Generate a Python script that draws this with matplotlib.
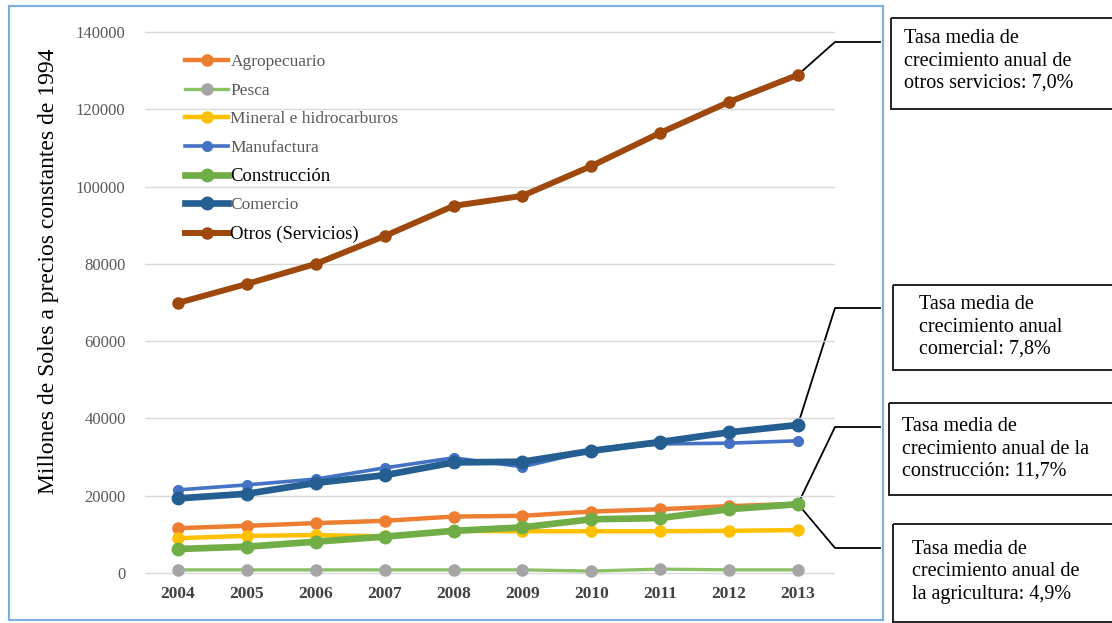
import numpy as np
import matplotlib.pyplot as plt
from matplotlib.patches import Rectangle

# Data (millones de soles a precios constantes de 1994)
years = [2004, 2005, 2006, 2007, 2008, 2009, 2010, 2011, 2012, 2013]
agropecuario = [11600, 12200, 12900, 13500, 14600, 14800, 15900, 16500, 17300, 17900]
pesca = [800, 800, 800, 800, 800, 800, 500, 1000, 800, 800]
mineral = [9000, 9600, 9800, 9500, 10900, 10800, 10800, 10800, 10900, 11100]
manufactura = [21500, 22800, 24300, 27200, 29800, 27500, 31600, 33400, 33600, 34200]
construccion = [6200, 6800, 8100, 9400, 10900, 11800, 13900, 14200, 16500, 17800]
comercio = [19300, 20500, 23300, 25300, 28600, 28800, 31600, 33900, 36400, 38300]
otros = [69900, 74800, 80000, 87200, 95000, 97600, 105300, 113900, 121900, 128900]

yticks = [0, 20000, 40000, 60000, 80000, 100000, 120000, 140000]

notes = [
    "Tasa media de\ncrecimiento anual de\notros servicios: 7,0%",
    "Tasa media de\ncrecimiento anual\ncomercial: 7,8%",
    "Tasa media de\ncrecimiento anual de la\nconstrucción: 11,7%",
    "Tasa media de\ncrecimiento anual de\nla agricultura: 4,9%",
]
note_series = [otros, comercio, construccion, agropecuario]

plt.rcParams['font.family'] = ['Liberation Serif', 'DejaVu Serif']

W, H = 1112, 623
fig = plt.figure(figsize=(W / 100, H / 100), dpi=100)

# background layer in pixel coords (y down)
bg = fig.add_axes([0, 0, 1, 1], zorder=0)
bg.set_xlim(0, W)
bg.set_ylim(H, 0)
bg.axis('off')
bg.add_patch(Rectangle((9, 6), 874, 614, fill=False, edgecolor='#7fb0dc', lw=1.6))

ax = fig.add_axes([145 / W, 1 - 580.7 / H, 690 / W, 556.4 / H], zorder=1)
ax.patch.set_alpha(0)

series = [
    ("Agropecuario", agropecuario, '#ED7D31', '#ED7D31', 3.2, 8),
    ("Pesca", pesca, '#8cc168', '#A5A5A5', 2.4, 8),
    ("Mineral e hidrocarburos", mineral, '#FFC000', '#FFC000', 3.2, 8),
    ("Manufactura", manufactura, '#4472C4', '#4472C4', 2.6, 7),
    ("Construcción", construccion, '#70AD47', '#70AD47', 4.8, 9),
    ("Comercio", comercio, '#255E91', '#255E91', 4.8, 9),
    ("Otros (Servicios)", otros, '#9E480E', '#9E480E', 4.3, 8),
]
for name, vals, lc, mc, lw, ms in series:
    ax.plot(years, vals, color=lc, lw=lw, marker='o', markersize=ms,
            markerfacecolor=mc, markeredgecolor=mc, label=name, clip_on=False)

ax.set_xlim(2003.52, 2013.54)
ax.set_ylim(-2000, 142000)
ax.set_yticks(yticks)
ax.set_xticks(years)
ax.yaxis.grid(True, color='#d9d9d9', lw=1)
ax.set_axisbelow(True)
for s in ax.spines.values():
    s.set_visible(False)
ax.tick_params(axis='both', length=0)
ax.tick_params(axis='y', labelsize=12, labelcolor='#595959', pad=14)
ax.tick_params(axis='x', labelsize=12.5, labelcolor='#404040', pad=4)
for t in ax.get_xticklabels():
    t.set_fontweight('bold')

ax.set_ylabel("Millones de Soles a precios constantes de 1994", fontsize=17)
ax.yaxis.set_label_coords(-0.124, (580.7 - 271) / 556.4)

leg = ax.legend(loc='upper left', bbox_to_anchor=(185 / W, 1 - 54 / H),
                bbox_transform=fig.transFigure, frameon=False, fontsize=12.5,
                labelspacing=0.71, handlelength=2.5, handletextpad=0.12,
                borderpad=0, borderaxespad=0)
for t in leg.get_texts():
    if t.get_text() in ("Construcción", "Otros (Servicios)"):
        t.set_color('black')
        t.set_fontsize(13.5)
    else:
        t.set_color('#595959')

# annotation boxes with connectors to the 2013 values
boxes = [(891, 18, 109), (893, 285, 370), (889, 403, 495), (893, 524, 622)]
text_pos = [(904, 29), (919, 295), (902, 417), (912, 540)]
elbow_y = [42, 308, 427, 548]
fig.canvas.draw()
for (bx, top, bot), (tx, ty), ey, text, vals in zip(boxes, text_pos, elbow_y,
                                                    notes, note_series):
    bg.add_patch(Rectangle((bx, top), W + 4 - bx, bot - top, fill=False,
                           edgecolor='#222222', lw=1.4))
    bg.text(tx, ty, text, fontsize=14.5, va='top', ha='left',
            linespacing=1.25, color='black')
    px, py = ax.transData.transform((years[-1], vals[-1]))
    bg.plot([px, 835, 880], [H - py, ey, ey], color='black', lw=1.3)

fig.savefig('out.png', dpi=100)
